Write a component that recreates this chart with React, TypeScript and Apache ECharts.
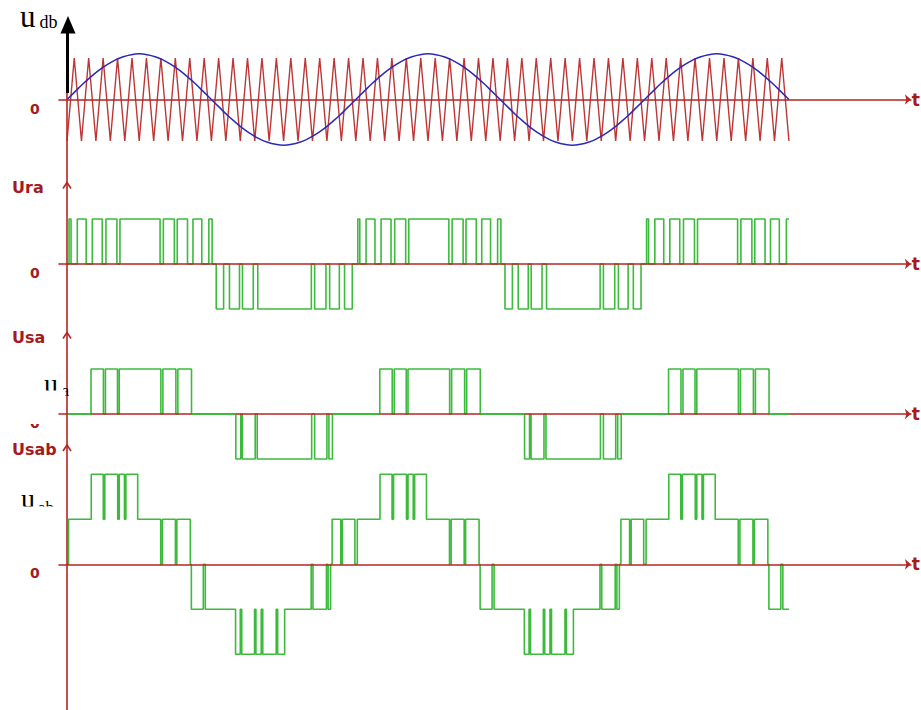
import React, { useEffect, useRef } from "react";
import * as echarts from "echarts";

// ---- x axis: electrical degrees, 0° at the vertical axis, 900° = 2.5 fundamental periods
const xMin = -10;
const xMax = 1052;
const signalEnd = 900;
const periodStarts = [0, 360, 720];

// ---- modulating sine wave sampled every 10° over one period (carrier peak = 1)
const sineStepDeg = 10;
const sineSamples = [
  0, 0.19, 0.38, 0.55, 0.71, 0.84, 0.95, 1.03, 1.08, 1.1, 1.08, 1.03, 0.95, 0.84, 0.71, 0.55, 0.38, 0.19,
  0, -0.19, -0.38, -0.55, -0.71, -0.84, -0.95, -1.03, -1.08, -1.1, -1.08, -1.03, -0.95, -0.84, -0.71, -0.55, -0.38, -0.19,
];

// ---- triangular carrier: one cycle of 18°, trough at 0°, peak at 9°
const carrierCycleDeg = 18;
const carrierCycles = 50;
const carrierCycleTimes = [0, 9];
const carrierCycleValues = [-1, 1];

// ---- switching instants (°) within one period and the level after each switch
const uraTimes = [2.5, 5.0, 12.8, 23.9, 31.5, 43.9, 48.5, 62.2, 66.0, 116.0, 120.1, 133.8, 137.4, 150.2, 157.0, 168.0, 176.8, 180.9,
  186.0, 195.2, 202.5, 215.0, 218.7, 232.2, 237.8, 304.6, 308.7, 322.8, 327.4, 339.5, 346.0, 355.6];
const uraLevels = [1, 0, 1, 0, 1, 0, 1, 0, 1, 0, 1, 0, 1, 0, 1, 0, 1, 0,
  -1, 0, -1, 0, -1, 0, -1, 0, -1, 0, -1, 0, -1, 0];

const usaTimes = [29.9, 45.4, 47.9, 62.9, 65.1, 117.0, 119.5, 135.7, 138.2, 155.2,
  210.4, 216.6, 218.5, 234.6, 237.1, 305.0, 308.7, 324.0, 326.5, 330.9];
const usaLevels = [1, 0, 1, 0, 1, 0, 1, 0, 1, 0, -1, 0, -1, 0, -1, 0, -1, 0, -1, 0];

const usabTimes = [1.9, 30.2, 45.2, 47.1, 63.2, 65.1, 71.6, 73.4, 88.1,
  116.8, 118.9, 135.1, 136.9, 153.7, 155.0, 169.9, 172.4,
  210.1, 216.0, 217.8, 233.8, 235.5, 242.1, 244.0, 260.8, 262.6, 271.3,
  304.4, 306.6, 323.4, 325.5, 328.6, 330.5, 341.3, 343.3, 358.9];
const usabLevels = [1, 2, 1, 2, 1, 2, 1, 2, 1,
  0, 1, 0, 1, 0, -1, 0, -1,
  -2, -1, -2, -1, -2, -1, -2, -1, -2, -1,
  0, -1, 0, -1, 0, 1, 0, 1, 0];

// ---- labels
const panelLabels = ["Ura", "Usa", "Usab"];
const zeroLabel = "0";
const axisName = "t";

const axisRed = "#b82424";
const labelRed = "#a51a1a";
const carrierRed = "#bd3535";
const sineBlue = "#2a2ab8";
const pwmGreen = "#3cba3c";

function stepPoints(times: number[], levels: number[]): number[][] {
  const pts: number[][] = [[0, 0]];
  let cur = 0;
  for (const p0 of periodStarts) {
    for (let i = 0; i < times.length; i++) {
      const t = p0 + times[i];
      if (t > signalEnd) break;
      pts.push([t, cur]);
      pts.push([t, levels[i]]);
      cur = levels[i];
    }
  }
  pts.push([signalEnd, cur]);
  return pts;
}

function zeroStretches(pts: number[][], minLen: number): number[][][] {
  const out: number[][][] = [];
  for (let i = 0; i < pts.length - 1; i++) {
    const a = pts[i];
    const b = pts[i + 1];
    if (a[1] === 0 && b[1] === 0 && b[0] - a[0] > minLen) out.push([a, b]);
  }
  return out;
}

function carrierPoints(): number[][] {
  const pts: number[][] = [];
  for (let k = 0; k < carrierCycles; k++) {
    for (let j = 0; j < carrierCycleTimes.length; j++) {
      pts.push([k * carrierCycleDeg + carrierCycleTimes[j], carrierCycleValues[j]]);
    }
  }
  pts.push([signalEnd, carrierCycleValues[0]]);
  return pts;
}

function sinePoints(): number[][] {
  const pts: number[][] = [];
  const n = signalEnd / sineStepDeg;
  for (let i = 0; i <= n; i++) pts.push([i * sineStepDeg, sineSamples[i % sineSamples.length]]);
  return pts;
}

export default function App() {
  const ref = useRef<HTMLDivElement>(null);

  useEffect(() => {
    if (!ref.current) return;
    const chart = echarts.init(ref.current, undefined, { renderer: "svg" });

    const grids = [
      { left: 59, right: 9, top: 37.25, height: 124.5 },
      { left: 59, right: 9, top: 196.5, height: 135 },
      { left: 59, right: 9, top: 346.5, height: 135 },
      { left: 59, right: 9, top: 451.8, height: 225 },
    ];
    const yRanges = [[-1.5, 1.5], [-1.5, 1.5], [-1.5, 1.5], [-2.5, 2.5]];

    const ura = stepPoints(uraTimes, uraLevels);
    const usa = stepPoints(usaTimes, usaLevels);
    const usab = stepPoints(usabTimes, usabLevels);

    const series: any[] = [
      {
        type: "line", xAxisIndex: 0, yAxisIndex: 0, data: carrierPoints(), symbol: "none", z: 2,
        lineStyle: { color: carrierRed, width: 1.4 }, silent: true,
      },
      {
        type: "line", xAxisIndex: 0, yAxisIndex: 0, data: sinePoints(), symbol: "none", smooth: true, z: 7,
        lineStyle: { color: sineBlue, width: 1.5 }, silent: true,
      },
    ];
    [ura, usa, usab].forEach((pts, i) => {
      series.push({
        type: "line", xAxisIndex: i + 1, yAxisIndex: i + 1, data: pts, symbol: "none", z: 2,
        lineStyle: { color: pwmGreen, width: 1.6 }, silent: true,
      });
      zeroStretches(pts, 12).forEach((seg) => {
        series.push({
          type: "line", xAxisIndex: i + 1, yAxisIndex: i + 1, data: seg, symbol: "none", z: 7,
          lineStyle: { color: pwmGreen, width: 1.8 }, silent: true,
        });
      });
    });

    const txt = (text: string, x: number, y: number, font: string, fill: string, va: string = "middle") => ({
      type: "text", x, y, z: 10,
      style: { text, font, fill, align: "left", verticalAlign: va },
    });
    const chevron = (y: number) => ({
      type: "polyline", z: 10,
      shape: { points: [[63, y + 6], [67, y], [71, y + 6]] },
      style: { stroke: axisRed, lineWidth: 1.6, fill: "none" },
    });
    const cover = (x: number, y: number, w: number, h: number) => ({
      type: "rect", z: 20, shape: { x, y, width: w, height: h }, style: { fill: "#ffffff" },
    });

    const labelFont = 'bold 16px "DejaVu Sans"';
    const zeroFont = 'bold 14px "DejaVu Sans"';

    const graphic: any[] = [
      { type: "line", z: 9, shape: { x1: 67, y1: 92, x2: 67, y2: 710 }, style: { stroke: axisRed, lineWidth: 1.6 } },
      { type: "line", z: 11, shape: { x1: 67.5, y1: 93, x2: 67.5, y2: 30 }, style: { stroke: "#000", lineWidth: 3 } },
      { type: "polygon", z: 11, shape: { points: [[68, 16], [60.5, 33.5], [75.5, 33.5]] }, style: { fill: "#000" } },
      txt("u", 20, 1, '31px "Liberation Serif"', "#000", "top"),
      txt("db", 39.5, 22.2, '18px "Liberation Serif"', "#000"),
      txt(zeroLabel, 30, 109, zeroFont, labelRed),
      txt(panelLabels[0], 12, 187, labelFont, labelRed),
      chevron(182.5),
      txt(zeroLabel, 30, 273, zeroFont, labelRed),
      txt(panelLabels[1], 12, 337, labelFont, labelRed),
      chevron(332.5),
      txt("u", 44, 383.5, '28px "Liberation Serif"', "#000"),
      txt("a", 62, 390, '16px "Liberation Serif"', "#000"),
      cover(38, 390.5, 27.5, 12),
      txt(zeroLabel, 30, 423, zeroFont, labelRed),
      cover(25, 404, 18, 20),
      txt(panelLabels[2], 12, 449, labelFont, labelRed),
      chevron(445),
      txt("u", 21, 498.5, '28px "Liberation Serif"', "#000"),
      txt("ab", 38, 507.8, '17px "Liberation Serif"', "#000"),
      cover(15, 506.5, 48, 14),
      txt(zeroLabel, 30, 573, zeroFont, labelRed),
    ];

    chart.setOption({
      animation: false,
      backgroundColor: "#ffffff",
      grid: grids,
      xAxis: grids.map((_, i) => ({
        type: "value", gridIndex: i, min: xMin, max: xMax, z: 5,
        axisLine: {
          show: true, onZero: true, symbol: ["none", "arrow"], symbolSize: [8, 6],
          lineStyle: { color: axisRed, width: 1.6 },
        },
        axisTick: { show: false }, axisLabel: { show: false }, splitLine: { show: false },
        name: axisName, nameLocation: "end", nameGap: 1,
        nameTextStyle: { color: labelRed, fontWeight: "bold", fontSize: 17, fontFamily: "DejaVu Sans", padding: [6, 0, 0, 0] },
      })),
      yAxis: grids.map((_, i) => ({
        type: "value", gridIndex: i, min: yRanges[i][0], max: yRanges[i][1], show: false,
        axisLine: { show: false }, splitLine: { show: false },
      })),
      series,
      graphic,
    });

    return () => chart.dispose();
  }, []);

  return (
    <div
      ref={ref}
      style={{ position: "fixed", left: 0, top: 0, width: 921, height: 710, background: "#fff" }}
    />
  );
}
